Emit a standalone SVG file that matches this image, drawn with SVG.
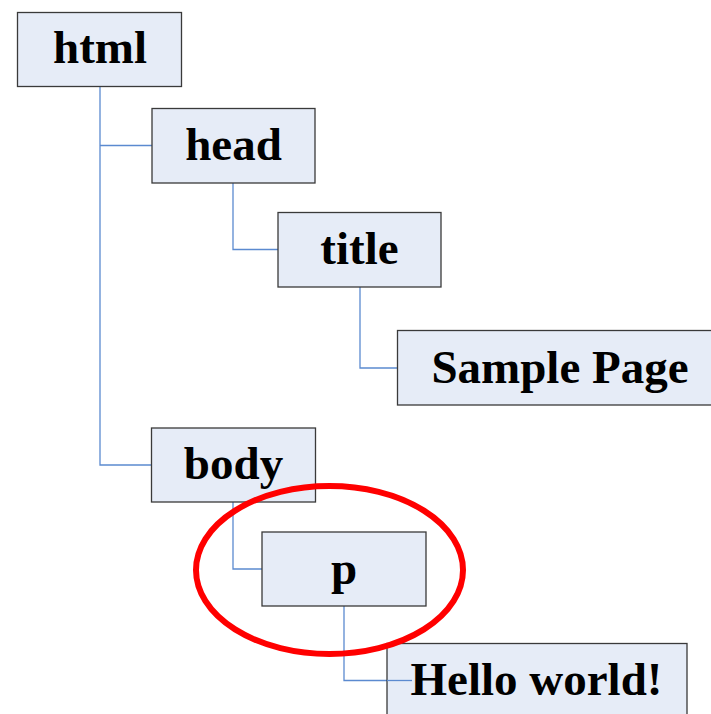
<svg xmlns="http://www.w3.org/2000/svg" width="711" height="714" viewBox="0 0 711 714">
<style>
.box{fill:#E6ECF7;stroke:#3A3A3A;stroke-width:1.3}
.lbl{font-family:"Liberation Serif","Times New Roman",serif;font-weight:bold;font-size:47px;fill:#000;text-anchor:middle}
.con{fill:none;stroke:#5B8AD0;stroke-width:1.3}
</style>
<rect width="711" height="714" fill="#fff"/>
<g id="connectors">
<path class="con" d="M100,86V465H151M100,145.5H152"/>
<path class="con" d="M233,183V249.5H278"/>
<path class="con" d="M360,287V368H397"/>
<path class="con" d="M233,502V569H262"/>
<path class="con" d="M344,606V680.5H387"/>
</g>
<g id="node-html"><rect class="box" x="17.5" y="12.5" width="164" height="74"/><text class="lbl" x="100" y="63">html</text></g>
<g id="node-head"><rect class="box" x="152" y="108.5" width="163" height="74.5"/><text class="lbl" x="233.5" y="160">head</text></g>
<g id="node-title"><rect class="box" x="278" y="212.5" width="163" height="74.5"/><text class="lbl" x="359.5" y="264">title</text></g>
<g id="node-sample"><rect class="box" x="397.5" y="330.5" width="326" height="74.5"/><text class="lbl" x="560" y="383">Sample Page</text></g>
<g id="node-body"><rect class="box" x="151.5" y="428" width="164" height="74"/><text class="lbl" x="233.5" y="479">body</text></g>
<g id="node-p"><rect class="box" x="262" y="532" width="164" height="74"/><text class="lbl" x="344" y="584">p</text></g>
<g id="node-hello"><rect class="box" x="387" y="643.5" width="300" height="76"/><line class="con" x1="387" y1="680.5" x2="412" y2="680.5"/><text class="lbl" x="536.5" y="695">Hello world!</text></g>
<g id="highlight"><ellipse cx="329.5" cy="570" rx="133.5" ry="84" fill="none" stroke="#FF0000" stroke-width="6"/></g>
</svg>
